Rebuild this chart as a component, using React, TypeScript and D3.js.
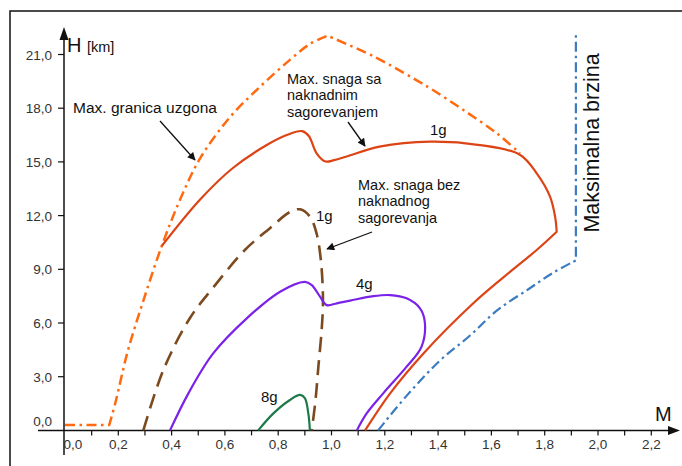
import React, { useEffect, useRef } from 'react';
import * as d3 from 'd3';

type Pt = [number, number];

// axis ticks
const xTicks = [0, 0.2, 0.4, 0.6, 0.8, 1.0, 1.2, 1.4, 1.6, 1.8, 2.0, 2.2];
const xTickLabels = ['0,0', '0,2', '0,4', '0,6', '0,8', '1,0', '1,2', '1,4', '1,6', '1,8', '2,0', '2,2'];
const xMinorTicks = [0.1, 0.2, 0.3, 0.4, 0.5, 0.6, 0.7, 0.8, 0.9, 1.0, 1.1, 1.2, 1.3, 1.4, 1.5, 1.6, 1.7, 1.8, 1.9, 2.0, 2.1, 2.2];
const yTicks = [0, 3, 6, 9, 12, 15, 18, 21];
const yTickLabels = ['0,0', '3,0', '6,0', '9,0', '12,0', '15,0', '18,0', '21,0'];

// Max. granica uzgona (M, H km)
const liftFlat: Pt[] = [[0, 0.3], [0.166, 0.3]];
const liftRise: Pt[] = [
  [0.166, 0.3], [0.19, 1.6], [0.235, 4.4], [0.293, 7.2], [0.363, 10.3], [0.432, 12.9],
  [0.507, 15.2], [0.619, 17.5], [0.732, 19.2], [0.844, 20.7], [0.92, 21.6], [0.985, 22.05],
];
const liftFall: Pt[] = [
  [0.985, 22.05], [1.157, 20.9], [1.307, 19.67], [1.382, 19.0], [1.495, 17.9], [1.62, 16.6], [1.707, 15.48],
];

// Max. snaga sa naknadnim sagorevanjem, 1g
const abUpper: Pt[] = [
  [0.363, 10.3], [0.507, 12.9], [0.63, 14.66], [0.757, 15.94], [0.832, 16.5], [0.89, 16.72],
  [0.915, 16.45], [0.944, 15.48], [0.978, 15.02], [1.01, 15.1], [1.057, 15.3], [1.18, 15.85],
  [1.37, 16.13], [1.557, 15.94], [1.707, 15.4], [1.77, 14.36], [1.82, 13.06], [1.839, 11.94], [1.845, 11.1],
];
const abLower: Pt[] = [
  [1.845, 11.1], [1.77, 10.08], [1.645, 8.55], [1.532, 7.1], [1.345, 4.3], [1.22, 2.07], [1.126, 0],
];

// Max. snaga bez naknadnog sagorevanja, 1g
const dry1g: Pt[] = [
  [0.294, 0], [0.369, 3.37], [0.469, 6.28], [0.555, 7.96], [0.675, 10.08], [0.769, 11.3],
  [0.844, 12.2], [0.882, 12.35], [0.919, 11.94], [0.944, 11.0], [0.96, 9.52], [0.968, 7.3],
  [0.963, 5.6], [0.951, 3.6], [0.94, 1.7], [0.926, 0],
];

// 4g
const g4: Pt[] = [
  [0.394, 0], [0.463, 2.07], [0.556, 4.3], [0.682, 6.26], [0.807, 7.75], [0.9, 8.3], [0.926, 8.12],
  [0.957, 7.47], [0.982, 7.0], [1.02, 7.1], [1.07, 7.25], [1.157, 7.5], [1.22, 7.56], [1.282, 7.38],
  [1.332, 6.82], [1.35, 6.07], [1.338, 4.68], [1.282, 3.56], [1.194, 2.07], [1.132, 0.95], [1.095, 0],
];

// 8g
const g8: Pt[] = [[0.725, 0], [0.782, 0.95], [0.844, 1.7], [0.882, 1.98], [0.9, 1.8], [0.913, 0.95], [0.919, 0]];

// Maksimalna brzina
const vmaxSlope: Pt[] = [
  [1.175, 0], [1.28, 1.9], [1.407, 3.9], [1.52, 5.3], [1.621, 6.7], [1.74, 7.9], [1.831, 8.8], [1.917, 9.5],
];
const vmaxTop: Pt[] = [[1.917, 9.5], [1.917, 22.1]];

const FONT = "'Liberation Sans', Arial, sans-serif";

const App = () => {
  const svgRef = useRef<SVGSVGElement>(null);

  useEffect(() => {
    const width = 682;
    const height = 466;
    const svg = d3.select(svgRef.current).attr('width', width).attr('height', height);
    svg.selectAll('*').remove();

    const x = d3.scaleLinear().domain([0, 2.2]).range([65, 651.3]);
    const y = d3.scaleLinear().domain([0, 21]).range([430.4, 54.5]);

    const defs = svg.append('defs');
    defs
      .append('marker')
      .attr('id', 'arr')
      .attr('viewBox', '0 0 10 10')
      .attr('refX', 9)
      .attr('refY', 5)
      .attr('markerUnits', 'userSpaceOnUse')
      .attr('markerWidth', 10)
      .attr('markerHeight', 8)
      .attr('orient', 'auto')
      .append('path')
      .attr('d', 'M0,0 L10,5 L0,10 z')
      .attr('fill', '#111');

    svg.append('rect').attr('width', width).attr('height', height).attr('fill', '#fff');
    svg
      .append('rect')
      .attr('x', 10)
      .attr('y', 11)
      .attr('width', 700)
      .attr('height', 500)
      .attr('fill', 'none')
      .attr('stroke', '#111')
      .attr('stroke-width', 1.5);

    const smooth = d3
      .line<Pt>()
      .x((d) => x(d[0]))
      .y((d) => y(d[1]))
      .curve(d3.curveCatmullRom.alpha(0.5));
    const straight = d3
      .line<Pt>()
      .x((d) => x(d[0]))
      .y((d) => y(d[1]));
    const join = (...parts: string[]) => parts.map((p, i) => (i === 0 ? p : p.replace(/^M/, 'L'))).join('');

    // axes
    const axes = svg.append('g').attr('stroke', '#111').attr('stroke-width', 1.5);
    axes.append('line').attr('x1', 38).attr('x2', 672).attr('y1', y(0)).attr('y2', y(0));
    axes.append('line').attr('x1', x(0) - 1).attr('x2', x(0) - 1).attr('y1', 455).attr('y2', 36);
    svg
      .append('path')
      .attr('d', `M680,${y(0)} L668,${y(0) - 4.5} L668,${y(0) + 4.5} z`)
      .attr('fill', '#111');
    svg
      .append('path')
      .attr('d', `M${x(0) - 1},27 L${x(0) - 5.5},40 L${x(0) + 3.5},40 z`)
      .attr('fill', '#111');

    svg
      .append('g')
      .selectAll('line')
      .data(xMinorTicks)
      .enter()
      .append('line')
      .attr('x1', (d) => x(d))
      .attr('x2', (d) => x(d))
      .attr('y1', y(0))
      .attr('y2', y(0) + 5)
      .attr('stroke', '#111')
      .attr('stroke-width', 1.2);

    svg
      .append('g')
      .selectAll('line')
      .data(yTicks.slice(1))
      .enter()
      .append('line')
      .attr('x1', x(0) - 7)
      .attr('x2', x(0) - 1)
      .attr('y1', (d) => y(d))
      .attr('y2', (d) => y(d))
      .attr('stroke', '#111')
      .attr('stroke-width', 1.2);

    svg
      .append('g')
      .selectAll('text')
      .data(xTicks)
      .enter()
      .append('text')
      .attr('x', (d) => (d === 0 ? x(d) + 8 : x(d)))
      .attr('y', 449)
      .attr('text-anchor', 'middle')
      .attr('font-family', FONT)
      .attr('font-size', 13.5)
      .attr('fill', '#333')
      .text((d, i) => xTickLabels[i]);

    svg
      .append('g')
      .selectAll('text')
      .data(yTicks)
      .enter()
      .append('text')
      .attr('x', 52)
      .attr('y', (d) => (d === 0 ? y(d) - 4 : y(d) + 5))
      .attr('text-anchor', 'end')
      .attr('font-family', FONT)
      .attr('font-size', 13.5)
      .attr('fill', '#333')
      .text((d, i) => yTickLabels[i]);

    // curves
    const curves = svg.append('g').attr('fill', 'none').attr('stroke-linejoin', 'round');
    curves
      .append('path')
      .attr('d', join(smooth(vmaxSlope)!, straight(vmaxTop)!))
      .attr('stroke', '#3b7bbf')
      .attr('stroke-width', 2.2)
      .attr('stroke-dasharray', '10 4 2.5 4');
    curves
      .append('path')
      .attr('d', join(straight(liftFlat)!, smooth(liftRise)!, smooth(liftFall)!))
      .attr('stroke', '#ff6a10')
      .attr('stroke-width', 2.5)
      .attr('stroke-dasharray', '10 4.5 2.5 4.5');
    curves
      .append('path')
      .attr('d', join(smooth(abUpper)!, smooth(abLower)!))
      .attr('stroke', '#dc4416')
      .attr('stroke-width', 2.2);
    curves
      .append('path')
      .attr('d', smooth(dry1g)!)
      .attr('stroke', '#7b4a1f')
      .attr('stroke-width', 2.6)
      .attr('stroke-dasharray', '15 8');
    curves
      .append('path')
      .attr('d', smooth(g4)!)
      .attr('stroke', '#7a22e8')
      .attr('stroke-width', 2.2);
    curves
      .append('path')
      .attr('d', smooth(g8)!)
      .attr('stroke', '#1d7a48')
      .attr('stroke-width', 2.2);

    // annotation arrows
    const arrows = [
      [160, 121, 195, 160],
      [348, 122, 365, 146],
      [372, 232, 327, 249],
    ];
    svg
      .append('g')
      .selectAll('line')
      .data(arrows)
      .enter()
      .append('line')
      .attr('x1', (d) => d[0])
      .attr('y1', (d) => d[1])
      .attr('x2', (d) => d[2])
      .attr('y2', (d) => d[3])
      .attr('stroke', '#111')
      .attr('stroke-width', 1.3)
      .attr('marker-end', 'url(#arr)');

    // labels (multi-line blocks as tspans)
    const labels: [string[], number, number, number][] = [
      [['Max. granica uzgona'], 73, 113, 15.5],
      [['Max. snaga sa', 'naknadnim', 'sagorevanjem'], 287, 84, 14.5],
      [['Max. snaga bez', 'naknadnog', 'sagorevanja'], 358, 190, 14.5],
      [['1g'], 430, 135, 15],
      [['1g'], 316, 221, 15],
      [['4g'], 356, 289, 15],
      [['8g'], 261, 402, 15],
      [['H'], 67, 52, 20],
      [['[km]'], 87, 52, 14.5],
      [['M'], 655, 421, 20],
    ];
    const texts = svg
      .append('g')
      .selectAll('text')
      .data(labels)
      .enter()
      .append('text')
      .attr('x', (d) => d[1])
      .attr('y', (d) => d[2])
      .attr('font-family', FONT)
      .attr('font-size', (d) => d[3])
      .attr('fill', '#111');
    texts
      .selectAll('tspan')
      .data((d) => d[0].map((line, i) => ({ line, i, x0: d[1] })))
      .enter()
      .append('tspan')
      .attr('x', (d) => d.x0)
      .attr('dy', (d) => (d.i === 0 ? 0 : 16.3))
      .text((d) => d.line);

    svg
      .append('text')
      .attr('transform', 'translate(592,143) rotate(-90)')
      .attr('text-anchor', 'middle')
      .attr('dominant-baseline', 'central')
      .attr('font-family', FONT)
      .attr('font-size', 21.5)
      .attr('fill', '#111')
      .text('Maksimalna brzina');
  }, []);

  return <svg ref={svgRef} style={{ position: 'absolute', left: 0, top: 0 }}></svg>;
};

export default App;
